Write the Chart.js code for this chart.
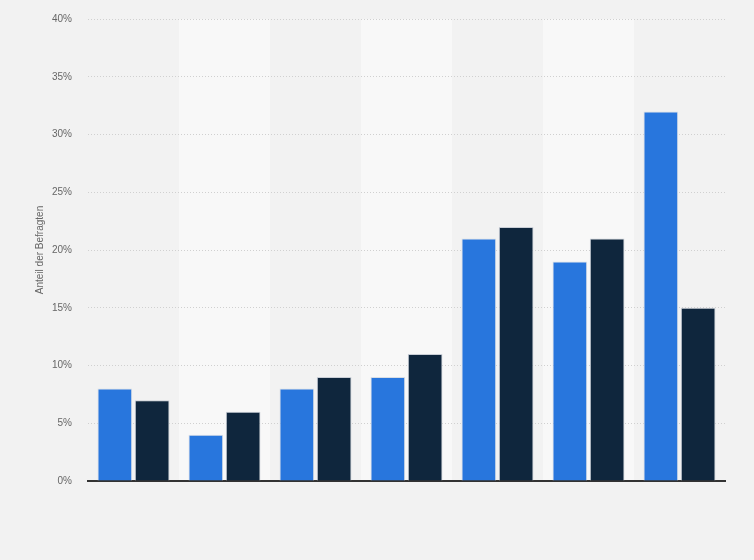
<!DOCTYPE html>
<html>
<head>
<meta charset="utf-8">
<script src="https://cdn.jsdelivr.net/npm/chart.js@4.4.1/dist/chart.umd.min.js"></script>
<style>
  html, body { margin: 0; padding: 0; background: #f2f2f2; }
  #wrap { width: 754px; height: 560px; position: relative; }
</style>
</head>
<body>
<div id="wrap"><canvas id="chart"></canvas></div>
<script>
// data
var categories = ['1', '2', '3', '4', '5', '6', '7'];
var seriesA = [8, 4, 8, 9, 21, 19, 32];
var seriesB = [7, 6, 9, 11, 22, 21, 15];
var yTicks = [0, 5, 10, 15, 20, 25, 30, 35, 40];

// light bands behind every second category
const bandPlugin = {
    id: 'bands',
    beforeDraw(chart) {
        var ctx = chart.ctx;
        var area = chart.chartArea;
        var x = chart.scales.x;
        var step = x.width / categories.length;
        ctx.save();
        ctx.fillStyle = '#f8f8f8';
        categories.forEach(function (c, i) {
            if (i % 2 === 1) {
                var cx = x.getPixelForValue(i);
                ctx.fillRect(cx - step / 2, area.top, step, area.bottom - area.top);
            }
        });
        ctx.restore();
    }
};

new Chart(document.getElementById('chart'), {
    type: 'bar',
    data: {
        labels: categories,
        datasets: [{
            data: seriesA,
            backgroundColor: '#2876dd',
            borderColor: '#d8dde4',
            borderWidth: 1,
            categoryPercentage: 0.82,
            barPercentage: 0.93
        }, {
            data: seriesB,
            backgroundColor: '#0f263d',
            borderColor: '#c9ced6',
            borderWidth: 1,
            categoryPercentage: 0.82,
            barPercentage: 0.93
        }]
    },
    options: {
        responsive: true,
        maintainAspectRatio: false,
        animation: false,
        layout: { padding: { top: 19, right: 29, bottom: 79, left: 0 } },
        plugins: {
            legend: { display: false },
            tooltip: { enabled: false }
        },
        scales: {
            x: {
                grid: { display: false },
                ticks: { display: false },
                border: { display: true, color: '#333333', width: 2 },
                afterFit: function (scale) {
                    scale.height = 0;
                    scale.paddingLeft = 0;
                    scale.paddingRight = 0;
                }
            },
            y: {
                min: 0,
                max: 40,
                afterBuildTicks: function (scale) {
                    scale.ticks = yTicks.map(function (v) { return { value: v }; });
                },
                ticks: {
                    color: '#666666',
                    font: { family: 'Arial, "Liberation Sans", sans-serif', size: 10 },
                    padding: 16,
                    callback: function (v) { return v + '%'; }
                },
                grid: {
                    color: '#d0d0d0',
                    lineWidth: 1,
                    drawTicks: false
                },
                border: { display: false, dash: [1, 2] },
                title: {
                    display: true,
                    text: 'Anteil der Befragten',
                    color: '#666666',
                    font: { family: 'Arial, "Liberation Sans", sans-serif', size: 10 },
                    padding: { top: 34, bottom: 0 }
                },
                afterFit: function (scale) {
                    scale.width = 88;
                    scale.paddingTop = 0;
                    scale.paddingBottom = 0;
                }
            }
        }
    },
    plugins: [bandPlugin]
});
</script>
</body>
</html>
